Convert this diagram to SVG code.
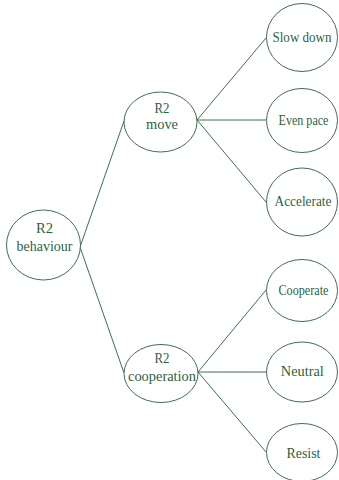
<svg xmlns="http://www.w3.org/2000/svg" width="339" height="480" viewBox="0 0 339 480">
<style>
ellipse{fill:#fff;stroke:#3f6f4f;stroke-width:1}
line{stroke:#3f6f4f;stroke-width:1}
text{font-family:'Liberation Serif','Times New Roman','DejaVu Serif',serif;font-size:15px;fill:#2f5f3f;text-anchor:middle}
text.s{font-size:14px}
</style>
<rect width="339" height="480" fill="#fff"/>
<g id="connectors">
<line x1="80" y1="247" x2="124" y2="121"/>
<line x1="80" y1="247" x2="124" y2="373"/>
<line x1="197" y1="120" x2="266" y2="38"/>
<line x1="197" y1="120" x2="266" y2="120"/>
<line x1="197" y1="120" x2="266" y2="202"/>
<line x1="198" y1="372" x2="266" y2="290"/>
<line x1="198" y1="372" x2="266" y2="372"/>
<line x1="198" y1="372" x2="266" y2="452"/>
</g>
<g id="root"><ellipse cx="43.5" cy="245" rx="37" ry="35"/><text x="44.5" y="233" textLength="17" lengthAdjust="spacingAndGlyphs">R2</text><text x="44.5" y="251" textLength="56" lengthAdjust="spacingAndGlyphs">behaviour</text></g>
<g id="move"><ellipse cx="160.5" cy="122" rx="36.5" ry="30"/><text x="162" y="113" textLength="15" lengthAdjust="spacingAndGlyphs">R2</text><text x="162" y="129" textLength="32" lengthAdjust="spacingAndGlyphs">move</text></g>
<g id="cooperation"><ellipse cx="161" cy="373.5" rx="37" ry="29"/><text x="162" y="363" textLength="15" lengthAdjust="spacingAndGlyphs">R2</text><text x="162" y="381" textLength="68" lengthAdjust="spacingAndGlyphs">cooperation</text></g>
<g id="slowdown"><ellipse cx="302" cy="37.5" rx="35.5" ry="34"/><text x="302" y="42" textLength="59" lengthAdjust="spacingAndGlyphs">Slow down</text></g>
<g id="evenpace"><ellipse cx="302" cy="120.5" rx="35.5" ry="32"/><text class="s" x="303.5" y="125" textLength="50" lengthAdjust="spacingAndGlyphs">Even pace</text></g>
<g id="accelerate"><ellipse cx="302" cy="202" rx="35.5" ry="34"/><text x="303" y="206" textLength="57" lengthAdjust="spacingAndGlyphs">Accelerate</text></g>
<g id="cooperate"><ellipse cx="302" cy="290.5" rx="35.5" ry="31"/><text class="s" x="303.5" y="295" textLength="50" lengthAdjust="spacingAndGlyphs">Cooperate</text></g>
<g id="neutral"><ellipse cx="302" cy="372" rx="35.5" ry="30"/><text x="302.3" y="376" textLength="43" lengthAdjust="spacingAndGlyphs">Neutral</text></g>
<g id="resist"><ellipse cx="302" cy="452.5" rx="35.5" ry="29"/><text x="303.5" y="457.5" textLength="34" lengthAdjust="spacingAndGlyphs">Resist</text></g>
</svg>
